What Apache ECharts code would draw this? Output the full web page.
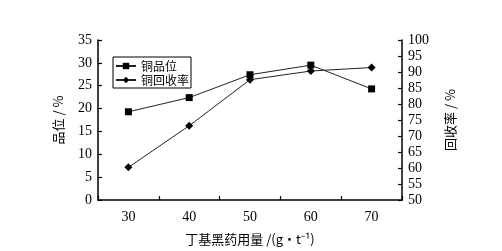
<!DOCTYPE html>
<html>
<head>
<meta charset="utf-8">
<script src="https://cdn.jsdelivr.net/npm/echarts@6/dist/echarts.min.js"></script>
<style>
  html, body { margin: 0; padding: 0; background: #fff; }
  #chart { width: 502px; height: 251px; }
</style>
</head>
<body>
<div id="chart"></div>
<script>
// 丁基黑药用量 (g/t)
const dosages = ['30', '40', '50', '60', '70'];
// 铜品位 (%)
const gradeValues = [19.3, 22.4, 27.4, 29.5, 24.3];
// 铜回收率 (%)
const recoveryValues = [60.2, 73.2, 87.6, 90.3, 91.4];

const serif = '"Liberation Serif", "Noto Sans CJK SC", serif';
const cjk = '"Noto Sans CJK SC", serif';

const chart = echarts.init(document.getElementById('chart'));

const axisLine = { show: true, lineStyle: { color: '#000', width: 1.5 } };

chart.setOption({
  animation: false,
  backgroundColor: '#fff',
  grid: { left: 98, right: 100, top: 40, bottom: 50 },
  legend: {
    orient: 'vertical',
    left: 113,
    top: 57,
    padding: [3, 2, 2, 2],
    itemGap: 2,
    itemWidth: 20,
    itemHeight: 8,
    borderColor: '#000',
    borderWidth: 1,
    textStyle: { fontFamily: cjk, fontSize: 12, color: '#000' },
    data: ['铜品位', '铜回收率']
  },
  xAxis: {
    type: 'category',
    data: dosages,
    boundaryGap: true,
    axisLine: axisLine,
    axisTick: { show: true, inside: true, length: 4, lineStyle: { color: '#000', width: 1.2 } },
    axisLabel: { color: '#000', fontFamily: serif, fontSize: 14, margin: 10 },
    name: '丁基黑药用量 /(g·t⁻¹)',
    nameLocation: 'middle',
    nameGap: 33,
    nameTextStyle: { fontFamily: cjk, fontSize: 13, color: '#000' }
  },
  yAxis: [
    {
      type: 'value',
      min: 0, max: 35, interval: 5,
      axisLine: axisLine,
      axisTick: { show: true, inside: true, length: 4, lineStyle: { color: '#000', width: 1.2 } },
      axisLabel: { color: '#000', fontFamily: serif, fontSize: 14, margin: 6 },
      splitLine: { show: false },
      name: '品位 / %',
      nameLocation: 'middle',
      nameGap: 33,
      nameTextStyle: { fontFamily: cjk, fontSize: 13, color: '#000' }
    },
    {
      type: 'value',
      min: 50, max: 100, interval: 5,
      position: 'right',
      axisLine: axisLine,
      axisTick: { show: true, inside: true, length: 4, lineStyle: { color: '#000', width: 1.2 } },
      axisLabel: { color: '#000', fontFamily: serif, fontSize: 14, margin: 6 },
      splitLine: { show: false },
      name: '回收率 / %',
      nameLocation: 'middle',
      nameGap: 42,
      nameRotate: 90,
      nameTextStyle: { fontFamily: cjk, fontSize: 13, color: '#000' }
    }
  ],
  series: [
    {
      name: '铜品位',
      type: 'line',
      yAxisIndex: 0,
      data: gradeValues,
      symbol: 'rect',
      symbolSize: 7,
      itemStyle: { color: '#000' },
      lineStyle: { color: '#222', width: 1 }
    },
    {
      name: '铜回收率',
      type: 'line',
      yAxisIndex: 1,
      data: recoveryValues,
      symbol: 'diamond',
      symbolSize: 8,
      itemStyle: { color: '#000' },
      lineStyle: { color: '#222', width: 1 }
    }
  ]
});
</script>
</body>
</html>
